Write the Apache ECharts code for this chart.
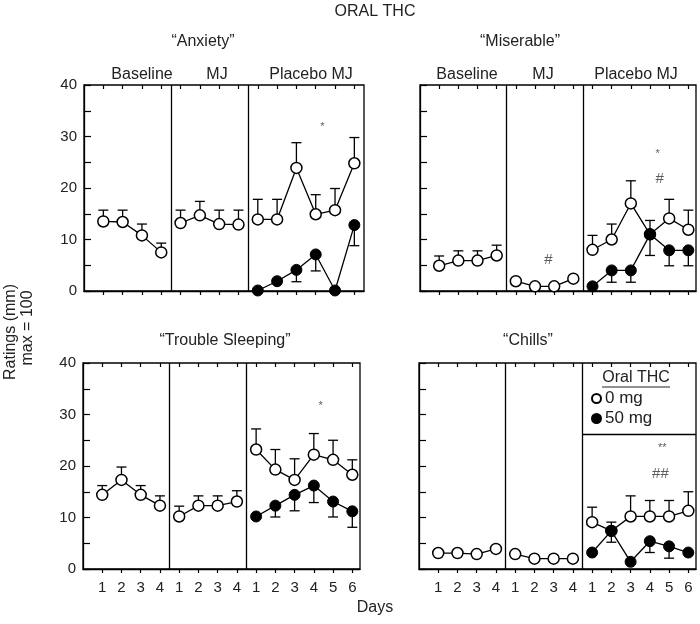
<!DOCTYPE html>
<html>
<head>
<meta charset="utf-8">
<script src="https://cdn.jsdelivr.net/npm/echarts@6/dist/echarts.min.js"></script>
<style>
  html, body { margin: 0; padding: 0; background: #fff; }
  #chart { width: 700px; height: 624px; }
</style>
</head>
<body>
<div id="chart"></div>
<script>
// day labels under the x axis (Baseline 4 days, MJ 4 days, Placebo MJ 6 days)
const dayLabels = ['1', '2', '3', '4', '1', '2', '3', '4', '1', '2', '3', '4', '5', '6'];
const sectionNames = ['Baseline', 'MJ', 'Placebo MJ'];
const panelTitles = ['\u201cAnxiety\u201d', '\u201cMiserable\u201d', '\u201cTrouble Sleeping\u201d', '\u201cChills\u201d'];
const yTicks = [0, 10, 20, 30, 40];

// 0 mg (open circles): all 14 days, SEM goes up
const anxietyOpen = [13.5, 13.4, 10.8, 7.5, 13.2, 14.7, 13.0, 12.9, 13.9, 13.9, 23.9, 14.9, 15.7, 24.8];
const anxietyOpenErr = [2.2, 2.3, 2.2, 1.8, 2.5, 2.7, 2.7, 2.8, 3.9, 3.9, 4.9, 3.8, 4.2, 5.0];
const miserableOpen = [4.9, 5.9, 5.9, 6.9, 1.9, 0.9, 0.9, 2.4, 8.0, 10.0, 17.0, 11.0, 14.1, 11.9];
const miserableOpenErr = [1.9, 1.9, 1.9, 2.0, 0, 0, 0, 0, 2.8, 3.0, 4.4, 2.7, 3.7, 3.8];
const sleepOpen = [14.4, 17.3, 14.4, 12.3, 10.2, 12.3, 12.3, 13.1, 23.2, 19.3, 17.3, 22.2, 21.2, 18.3];
const sleepOpenErr = [1.8, 2.5, 1.8, 1.9, 2.0, 1.9, 1.9, 2.1, 4.0, 3.9, 4.1, 4.1, 3.8, 2.9];
const chillsOpen = [3.1, 3.1, 2.9, 3.9, 2.9, 2.0, 2.0, 2.0, 9.1, 7.4, 10.2, 10.2, 10.2, 11.3];
const chillsOpenErr = [0, 0, 0, 0, 0, 0, 0, 0, 2.9, 1.7, 4.0, 3.1, 3.1, 3.7];

// 50 mg (filled circles): Placebo MJ days only, SEM goes down
const anxietyFilled = [0.1, 1.9, 4.1, 7.1, 0.1, 12.8];
const anxietyFilledErr = [0, 0, 2.3, 3.2, 0, 4.0];
const miserableFilled = [0.9, 4.0, 4.0, 11.0, 7.9, 7.9];
const miserableFilledErr = [0, 2.3, 2.3, 4.1, 3.0, 3.0];
const sleepFilled = [10.2, 12.3, 14.4, 16.2, 13.1, 11.2];
const sleepFilledErr = [0, 2.2, 3.1, 3.3, 3.0, 3.1];
const chillsFilled = [3.2, 7.4, 1.4, 5.4, 4.4, 3.2];
const chillsFilledErr = [0, 2.2, 0, 2.2, 2.3, 0];

// significance marks [day index, rating, text]
const anxietyMarks = [[11.35, 31.9, '*']];
const miserableMarks = [[11.4, 26.7, '*'], [11.5, 21.7, '#'], [5.7, 6.1, '#']];
const sleepMarks = [[11.35, 31.6, '*']];
const chillsMarks = [[11.65, 23.5, '**'], [11.55, 18.4, '##']];

const font = 'Liberation Sans, Arial, sans-serif';
const panels = [
    { open: anxietyOpen, openErr: anxietyOpenErr, filled: anxietyFilled, filledErr: anxietyFilledErr, marks: anxietyMarks },
    { open: miserableOpen, openErr: miserableOpenErr, filled: miserableFilled, filledErr: miserableFilledErr, marks: miserableMarks },
    { open: sleepOpen, openErr: sleepOpenErr, filled: sleepFilled, filledErr: sleepFilledErr, marks: sleepMarks },
    { open: chillsOpen, openErr: chillsOpenErr, filled: chillsFilled, filledErr: chillsFilledErr, marks: chillsMarks }
];

const grids = [
    { left: 84, top: 85, width: 280, height: 206, xMax: 13.5 },
    { left: 420, top: 85, width: 276, height: 206, xMax: 13.4 },
    { left: 83, top: 363, width: 277, height: 206, xMax: 13.4 },
    { left: 419, top: 363, width: 277, height: 206, xMax: 13.4 }
];

const tickIdx = dayLabels.map(function (d, i) { return i; });
const placeboStart = 8;

function openData(vals) {
    let out = [];
    vals.forEach(function (v, i) {
        if (i === 4 || i === 8) out.push([i - 0.5, '-']);
        out.push([i, v]);
    });
    return out;
}

function errData(vals, errs, start) {
    return vals.map(function (v, i) { return [start + i, v, errs[i]]; });
}

function errRender(dir) {
    return function (params, api) {
        const e = api.value(2);
        if (!e) return null;
        const x = api.value(0), y = api.value(1);
        const p0 = api.coord([x, y]);
        const p1 = api.coord([x, y + dir * e]);
        const st = { stroke: '#000', lineWidth: 1.3 };
        return {
            type: 'group',
            children: [
                { type: 'line', shape: { x1: p0[0], y1: p0[1], x2: p1[0], y2: p1[1] }, style: st },
                { type: 'line', shape: { x1: p1[0] - 5, y1: p1[1], x2: p1[0] + 5, y2: p1[1] }, style: st }
            ]
        };
    };
}

let xAxes = [], yAxes = [], series = [];
grids.forEach(function (g, i) {
    const bottomRow = i >= 2;
    xAxes.push({
        type: 'value', gridIndex: i, min: -1, max: g.xMax,
        axisLine: { onZero: false, lineStyle: { color: '#000', width: 1.3 } },
        axisTick: { customValues: tickIdx, length: 4, lineStyle: { color: '#000', width: 1.2 } },
        axisLabel: {
            show: bottomRow, customValues: tickIdx, margin: 11,
            fontFamily: font, fontSize: 15, color: '#222',
            formatter: function (v) { return dayLabels[Math.round(v)] || ''; }
        },
        splitLine: { show: false }
    });
    xAxes.push({
        type: 'value', gridIndex: i, min: -1, max: g.xMax,
        axisLine: { show: false, onZero: false },
        axisTick: { customValues: tickIdx, inside: true, length: 4, lineStyle: { color: '#000', width: 1.2 } },
        axisLabel: { show: false },
        splitLine: { show: false }
    });
    yAxes.push({
        type: 'value', gridIndex: i, min: 0, max: 40, interval: 10,
        axisLine: { show: true, onZero: false, lineStyle: { color: '#000', width: 1.3 } },
        axisTick: { inside: true, length: 7, lineStyle: { color: '#000', width: 1.2 } },
        minorTick: { show: true, splitNumber: 2, length: 7, lineStyle: { color: '#000', width: 1.2 } },
        axisLabel: {
            show: i % 2 === 0, margin: 7, fontFamily: font, fontSize: 15, color: '#222',
            formatter: function (v) { return yTicks.indexOf(v) >= 0 ? String(v) : ''; }
        },
        splitLine: { show: false }
    });

    const p = panels[i];
    let dividers = [{ xAxis: 3.5 }, { xAxis: 7.5 }];
    if (i === 3) dividers.push([{ coord: [7.5, 26.2] }, { coord: [g.xMax, 26.2] }]);

    series.push({
        type: 'custom', xAxisIndex: 2 * i, yAxisIndex: i, z: 1,
        renderItem: errRender(1), data: errData(p.open, p.openErr, 0), silent: true
    });
    series.push({
        type: 'custom', xAxisIndex: 2 * i, yAxisIndex: i, z: 1,
        renderItem: errRender(-1), data: errData(p.filled, p.filledErr, placeboStart), silent: true
    });
    series.push({
        name: '0 mg', type: 'line', xAxisIndex: 2 * i, yAxisIndex: i, z: 2,
        data: openData(p.open), symbol: 'circle', symbolSize: 11, showSymbol: true,
        lineStyle: { color: '#000', width: 1.3 },
        itemStyle: { color: '#fff', borderColor: '#000', borderWidth: 1.5 },
        markLine: {
            silent: true, symbol: 'none', label: { show: false },
            lineStyle: { color: '#000', type: 'solid', width: 1.3 },
            data: dividers
        }
    });
    series.push({
        name: '50 mg', type: 'line', xAxisIndex: 2 * i, yAxisIndex: i, z: 3,
        data: p.filled.map(function (v, k) { return [placeboStart + k, v]; }),
        symbol: 'circle', symbolSize: 11, showSymbol: true,
        lineStyle: { color: '#000', width: 1.3 },
        itemStyle: { color: '#000', borderColor: '#000', borderWidth: 1 }
    });
    // significance marks: asterisks small, hashes larger
    series.push({
        type: 'scatter', xAxisIndex: 2 * i, yAxisIndex: i, z: 4, silent: true,
        symbolSize: 1, itemStyle: { color: 'rgba(0,0,0,0)' },
        data: p.marks.map(function (d) {
            return { value: d, label: { fontSize: d[2].indexOf('*') >= 0 ? 11 : 15 } };
        }),
        label: {
            show: true, position: 'inside', fontFamily: font, color: '#333',
            formatter: function (q) { return q.value[2]; }
        }
    });
});

function txt(x, y, text, size, extra) {
    return Object.assign({
        type: 'text', x: x, y: y,
        style: { text: text, fontFamily: font, fontSize: size, fill: '#222', align: 'center', verticalAlign: 'middle' }
    }, extra || {});
}

let graphics = [
    txt(375, 12, 'ORAL THC', 16),
    txt(203, 42, panelTitles[0], 16),
    txt(520, 42, panelTitles[1], 16),
    txt(225, 341, panelTitles[2], 16),
    txt(528, 341, panelTitles[3], 16),
    txt(142, 75, sectionNames[0], 16),
    txt(217, 75, sectionNames[1], 16),
    txt(311, 75, sectionNames[2], 16),
    txt(467, 75, sectionNames[0], 16),
    txt(543, 75, sectionNames[1], 16),
    txt(636, 75, sectionNames[2], 16),
    txt(375, 608, 'Days', 16),
    txt(11, 332, 'Ratings (mm)', 16, { rotation: Math.PI / 2 }),
    txt(28, 328, 'max = 100', 16, { rotation: Math.PI / 2 }),
    txt(636, 378, 'Oral THC', 16),
    { type: 'line', shape: { x1: 602, y1: 387, x2: 670, y2: 387 }, style: { stroke: '#222', lineWidth: 1 } }
];

const chart = echarts.init(document.getElementById('chart'));
chart.setOption({
    animation: false,
    backgroundColor: '#fff',
    grid: grids.map(function (g) {
        return { left: g.left, top: g.top, width: g.width, height: g.height, show: true, borderColor: '#000', borderWidth: 1.3, backgroundColor: 'transparent' };
    }),
    legend: {
        data: [{ name: '0 mg', icon: 'circle' }, { name: '50 mg', icon: 'circle' }],
        orient: 'vertical', left: 591, top: 390, padding: 0, itemWidth: 9, itemHeight: 9, itemGap: 3,
        selectedMode: false,
        textStyle: { fontFamily: font, fontSize: 17, lineHeight: 17, color: '#222', padding: [0, 0, 0, -1] }
    },
    xAxis: xAxes,
    yAxis: yAxes,
    series: series,
    graphic: graphics
});
</script>
</body>
</html>
